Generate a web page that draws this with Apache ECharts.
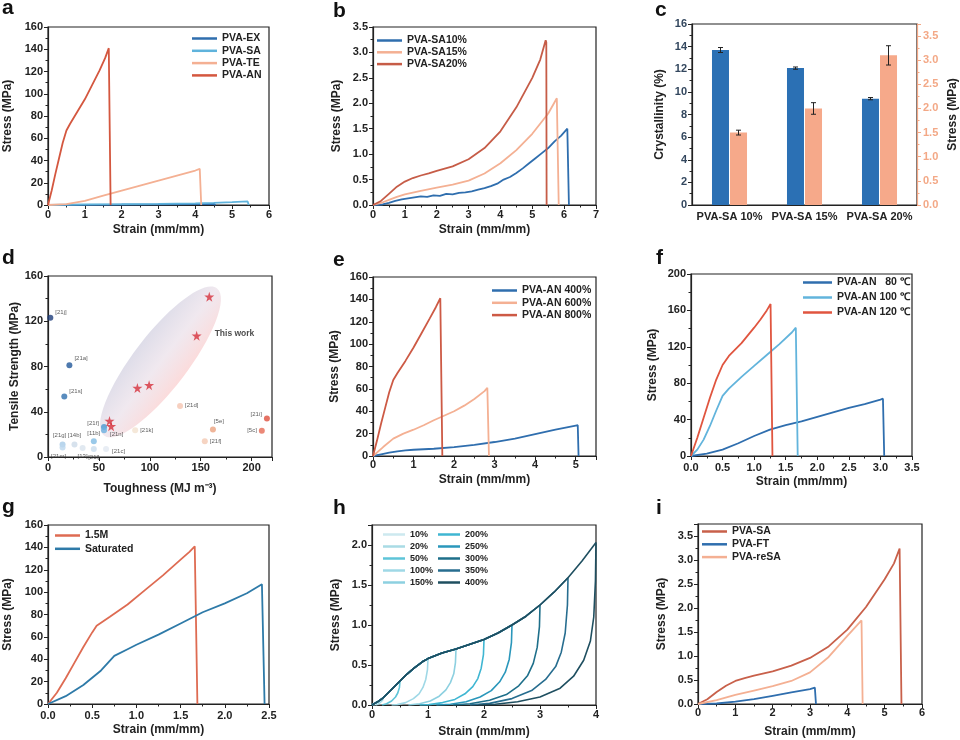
<!DOCTYPE html>
<html><head><meta charset="utf-8">
<script src="https://cdn.jsdelivr.net/npm/echarts@6/dist/echarts.min.js"></script>
<style>html,body{margin:0;padding:0;background:#fff}#c{width:960px;height:740px}</style>
</head><body><div id="c"></div>
<script>
// ---------------- DATA ----------------
// (a) Stress–strain of PVA-EX / SA / TE / AN
const aEX = [[0,0],[1,0.15],[2,0.3],[3,0.5],[4,0.8],[4.5,1.0],[4.55,0]];
const aSA = [[0,0],[1,0.5],[2,0.7],[3,0.95],[4,1.5],[4.5,2.0],[5,2.6],[5.42,3.2],[5.45,0]];
const aTE = [[0,0],[0.5,0.8],[1,3.8],[1.5,8.5],[2,13],[2.5,17.5],[3,22],[3.5,26.5],[4,31],[4.12,32.5],[4.14,32],[4.16,0]];
const aAN = [[0,0],[0.1,13],[0.2,28],[0.3,42],[0.4,56],[0.5,67],[0.6,73],[0.8,84],[1.0,95],[1.2,108],[1.4,121],[1.55,132],[1.65,141],[1.68,141],[1.7,0]];
// (b) PVA-SA 10/15/20 %
const b10 = [[0,0],[0.3,0.01],[0.5,0.04],[0.7,0.08],[0.9,0.11],[1.1,0.13],[1.3,0.15],[1.5,0.17],[1.7,0.16],[1.9,0.19],[2.1,0.18],[2.3,0.22],[2.5,0.21],[2.7,0.24],[2.9,0.25],[3.1,0.27],[3.3,0.3],[3.5,0.33],[3.7,0.37],[3.9,0.42],[4.1,0.5],[4.3,0.55],[4.5,0.63],[4.7,0.72],[4.9,0.82],[5.1,0.92],[5.3,1.02],[5.5,1.12],[5.7,1.25],[5.9,1.36],[6.1,1.5],[6.13,1.52],[6.15,0]];
const b15 = [[0,0],[0.25,0.04],[0.5,0.1],[0.75,0.16],[1.0,0.21],[1.5,0.28],[2.0,0.34],[2.5,0.4],[3.0,0.48],[3.5,0.62],[4.0,0.82],[4.5,1.08],[5.0,1.4],[5.5,1.8],[5.77,2.1],[5.8,2.1],[5.83,0]];
const b20 = [[0,0],[0.25,0.08],[0.5,0.22],[0.75,0.36],[1.0,0.46],[1.25,0.53],[1.5,0.58],[1.75,0.62],[2.0,0.67],[2.5,0.76],[3.0,0.9],[3.5,1.12],[4.0,1.45],[4.5,1.92],[5.0,2.5],[5.25,2.86],[5.42,3.24],[5.44,3.2],[5.45,0]];
// (c) crystallinity & stress
const cCategories = ['PVA-SA 10%','PVA-SA 15%','PVA-SA 20%'];
const cCryst = [13.7, 12.1, 9.4];
const cCrystErr = [0.22, 0.1, 0.1];
const cStress = [1.5, 2.0, 3.1];
const cStressErr = [0.05, 0.12, 0.2];
// (d) Ashby-type comparison
const dNames = ['[21j]','[21a]','[21s]','[21f]','[21n]','[11b]','[14b]','[21g]','[21m]','[13]','[21l]','[21c]','[21k]','[21d]','[5e]','[21f]','[21i]','[5c]'];
const dX = [2.3,21,16,55,55,45,26,14.3,14.3,34,45,57,85.6,129.7,162,154,215,210];
const dY = [123,81,53.5,26.6,23.6,14,11,11,8.3,8,7,7,23.6,45,24.2,14,34,23.3];
const dStarX = [158.4,146,99.3,87.8,60.4,62];
const dStarY = [141.7,107.2,63.5,61,31.9,27.2];
const dEllipseEnds = [[55,19],[166,149]];
// (e) draw ratio
const e400 = [[0,0],[0.2,1.5],[0.4,3],[0.6,4.2],[0.8,5],[1,5.6],[1.5,6.5],[2,8],[2.5,10],[3,12.5],[3.5,15.5],[4,19.5],[4.5,23.5],[5,27.2],[5.05,27.5],[5.07,0]];
const e600 = [[0,0],[0.25,8],[0.5,15.5],[0.75,20],[1,23.5],[1.25,27.5],[1.5,32],[1.75,36],[2,40],[2.25,45],[2.5,51],[2.75,58],[2.82,61],[2.84,61],[2.86,0]];
const e800 = [[0,0],[0.1,14],[0.2,29],[0.3,43],[0.4,57],[0.5,68],[0.6,74],[0.8,85],[1.0,97],[1.2,110],[1.4,123],[1.55,133],[1.66,141],[1.69,141],[1.71,0]];
// (f) annealing temperature
const f80 = [[0,0],[0.25,2.5],[0.5,7],[0.75,14],[1.0,22],[1.25,29],[1.5,34],[1.75,38],[2.0,43],[2.25,48],[2.5,53],[2.75,57],[3.0,62],[3.04,63],[3.06,0]];
const f100 = [[0,0],[0.1,7],[0.2,18],[0.3,33],[0.4,50],[0.5,66],[0.6,74],[0.8,87],[1.0,99],[1.2,111],[1.4,123],[1.6,136],[1.66,141],[1.68,141],[1.69,0]];
const f120 = [[0,0],[0.1,20],[0.2,42],[0.3,64],[0.4,84],[0.5,100],[0.6,110],[0.8,124],[1.0,141],[1.1,150],[1.2,160],[1.26,167],[1.28,166],[1.29,0]];
// (g) salt concentration
const g15M = [[0,0],[0.1,10],[0.2,23],[0.3,37],[0.4,51],[0.5,64],[0.55,70],[0.7,78],[0.9,89],[1.1,102],[1.3,115],[1.5,129],[1.6,136],[1.66,141],[1.68,141],[1.69,0]];
const gSat = [[0,0],[0.2,7],[0.4,17],[0.6,30],[0.75,43],[0.9,49],[1.0,53],[1.25,62],[1.5,72],[1.75,82],[2.0,90],[2.25,99],[2.42,107],[2.44,107],[2.45,0]];
// (h) cyclic loading
const hLevels = ['10%','20%','50%','100%','150%','200%','250%','300%','350%','400%'];
const hEnvelope = [[0,0],[0.05,0.02],[0.1,0.04],[0.2,0.09],[0.3,0.16],[0.4,0.23],[0.5,0.3],[0.6,0.37],[0.75,0.46],[0.9,0.54],[1.0,0.58],[1.25,0.65],[1.5,0.7],[1.75,0.76],[2.0,0.82],[2.25,0.9],[2.5,1.0],[2.75,1.11],[3.0,1.25],[3.25,1.41],[3.5,1.59],[3.75,1.8],[4.0,2.03]];
const hUnload = [
  [[0.1,0.04],[0.09,0.025],[0.07,0.01],[0.04,0]],
  [[0.2,0.09],[0.19,0.06],[0.16,0.035],[0.12,0.015],[0.07,0]],
  [[0.5,0.3],[0.49,0.22],[0.46,0.15],[0.42,0.1],[0.35,0.05],[0.26,0.015],[0.18,0]],
  [[1.0,0.58],[0.99,0.44],[0.96,0.32],[0.91,0.22],[0.84,0.14],[0.74,0.08],[0.6,0.03],[0.45,0.005],[0.35,0]],
  [[1.5,0.7],[1.49,0.53],[1.46,0.39],[1.4,0.28],[1.32,0.19],[1.2,0.11],[1.04,0.05],[0.85,0.015],[0.65,0]],
  [[2.0,0.82],[1.99,0.63],[1.95,0.46],[1.89,0.33],[1.8,0.23],[1.66,0.14],[1.48,0.07],[1.26,0.03],[1.02,0.005],[0.85,0]],
  [[2.5,1.0],[2.49,0.78],[2.45,0.57],[2.38,0.41],[2.28,0.29],[2.13,0.18],[1.93,0.1],[1.68,0.04],[1.4,0.01],[1.15,0]],
  [[3.0,1.25],[2.99,0.98],[2.95,0.72],[2.88,0.52],[2.78,0.37],[2.62,0.24],[2.4,0.13],[2.1,0.06],[1.75,0.015],[1.45,0]],
  [[3.5,1.59],[3.49,1.25],[3.45,0.9],[3.38,0.66],[3.28,0.48],[3.1,0.32],[2.85,0.18],[2.5,0.08],[2.1,0.02],[1.75,0]],
  [[4.0,2.03],[3.99,1.55],[3.96,1.1],[3.9,0.8],[3.78,0.56],[3.6,0.36],[3.36,0.21],[3.0,0.1],[2.6,0.04],[2.2,0.01],[1.9,0]]
];
// (i) recycling
const iSA = [[0,0],[0.25,0.1],[0.5,0.25],[0.75,0.38],[1.0,0.48],[1.25,0.54],[1.5,0.59],[2.0,0.68],[2.5,0.8],[3.0,0.96],[3.5,1.2],[4.0,1.55],[4.5,2.02],[5.0,2.6],[5.25,2.93],[5.4,3.24],[5.43,3.2],[5.45,0]];
const iFT = [[0,0],[0.5,0.01],[1.0,0.05],[1.5,0.1],[2.0,0.17],[2.5,0.24],[3.0,0.31],[3.13,0.34],[3.15,0.33],[3.16,0]];
const iReSA = [[0,0],[0.5,0.08],[1.0,0.19],[1.5,0.28],[2.0,0.37],[2.5,0.48],[3.0,0.66],[3.5,0.98],[4.0,1.42],[4.38,1.74],[4.4,1.72],[4.41,0]];

// ---------------- STYLE ----------------
const FONT = '"Liberation Sans", Arial, Helvetica, sans-serif';
const INK = '#222';
const BLUE = '#2f6eae', LBLUE = '#5fb3dc', SALMON = '#f4b093', RED = '#d4573f', BROWN = '#c65c47';
const hColors = ['#cde9ef','#a9dbe5','#5ec4d8','#9fd8e6','#8dd0e0','#3fb6d2','#2a97bb','#1e6f8a','#276d8f','#1f4f60'];
const dColors = ['#1e3d7b','#22579a','#2f6fae','#4a97d0','#6bb0e0','#7fbbe4','#cddbe8','#a7cce8','#bcd7ee','#dae4ee','#c9dcec','#e2e9f1','#f3e2d0','#f5c4b0','#eba27f','#f4c9b3','#df4f3d','#e66a55'];
const dLabelPos = ['right','right','right','left','right','top','top','top','bottom','bottom','bottom','right','right','right','top','right','left','left'];
const dLabelOff = [[0,-6],[0,-7],[0,-5],[0,-4],[1,4],[0,0],[0,-1],[-3,-1],[-4,1],[0,0],[0,0],[1,2],[0,0],[0,-1],[6,0],[0,0],[0,-4],[0,0]];

const gridBoxes = [
  {left:48, top:27, width:221, height:178},
  {left:373, top:27, width:223, height:178},
  {left:692, top:24, width:225, height:181},
  {left:48, top:276, width:224, height:181},
  {left:373, top:277, width:223, height:179},
  {left:691, top:274, width:221, height:182},
  {left:48, top:525, width:221, height:179},
  {left:372, top:525, width:224, height:180},
  {left:698, top:524, width:224, height:180}
];
const grid = gridBoxes.map(g => Object.assign({show:true, borderColor:INK, borderWidth:1.2, backgroundColor:'transparent', containLabel:false, outerBoundsMode:'none'}, g));

const fix1 = v => v.toFixed(1);
function vAxis(gridIndex, position, min, max, interval, name, o) {
  o = o || {};
  const col = o.color || INK;
  const ax = {
    type:'value', gridIndex, position, min, max, interval,
    name, nameLocation:'middle', nameGap:o.nameGap,
    nameTextStyle:{fontFamily:FONT, fontWeight:'bold', fontSize:12, color:INK},
    axisLine:{show:true, onZero:false, lineStyle:{color:col, width:1.2}},
    axisTick:{show:true, length:4, lineStyle:{color:col, width:1}},
    minorTick:{show:true, splitNumber:2, length:2.5, lineStyle:{color:col, width:1}},
    splitLine:{show:false}, minorSplitLine:{show:false},
    axisLabel:{fontFamily:FONT, fontWeight:'bold', fontSize:11, color:o.labelColor || INK, margin:o.margin == null ? 5 : o.margin, showMaxLabel: !o.hideMax, showMinLabel:true}
  };
  if (o.fmt) ax.axisLabel.formatter = o.fmt;
  return ax;
}
const STRAIN = 'Strain (mm/mm)', STRESS = 'Stress (MPa)';
const xAxis = [
  vAxis(0,'bottom',0,6,1,STRAIN,{nameGap:19, margin:4}),
  vAxis(1,'bottom',0,7,1,STRAIN,{nameGap:19, margin:4}),
  {type:'category', gridIndex:2, data:cCategories, position:'bottom',
   axisLine:{show:true, lineStyle:{color:INK, width:1.2}}, axisTick:{show:false},
   axisLabel:{fontFamily:FONT, fontWeight:'bold', fontSize:11, color:INK, margin:6, interval:0}},
  vAxis(3,'bottom',0,220,50,'Toughness (MJ m⁻³)',{nameGap:26, margin:5, hideMax:true}),
  vAxis(4,'bottom',0,5.5,1,STRAIN,{nameGap:18, margin:3, hideMax:true}),
  vAxis(5,'bottom',0,3.5,0.5,STRAIN,{nameGap:20, margin:6, fmt:fix1}),
  vAxis(6,'bottom',0,2.5,0.5,STRAIN,{nameGap:20, margin:6, fmt:fix1}),
  vAxis(7,'bottom',0,4,1,STRAIN,{nameGap:21, margin:4}),
  vAxis(8,'bottom',0,6,1,STRAIN,{nameGap:22, margin:3})
];
const yAxis = [
  vAxis(0,'left',0,160,20,STRESS,{nameGap:34}),
  vAxis(1,'left',0,3.5,0.5,STRESS,{nameGap:30, fmt:fix1}),
  vAxis(2,'left',0,16,2,'Crystallinity (%)',{nameGap:26, labelColor:'#33475e'}),
  vAxis(2,'right',0,3.75,0.5,STRESS,{nameGap:30, color:'#f3a886', labelColor:'#f3a886', hideMax:true, fmt:fix1, margin:6}),
  vAxis(3,'left',0,160,40,'Tensile Strength (MPa)',{nameGap:27}),
  vAxis(4,'left',0,160,20,STRESS,{nameGap:32}),
  vAxis(5,'left',0,200,40,STRESS,{nameGap:32}),
  vAxis(6,'left',0,160,20,STRESS,{nameGap:34}),
  vAxis(7,'left',0,2.25,0.5,STRESS,{nameGap:30, hideMax:true, fmt:fix1}),
  vAxis(8,'left',0,3.75,0.5,STRESS,{nameGap:30, hideMax:true, fmt:fix1})
];

function line(name, data, xi, yi, color, w) {
  return {type:'line', name, data, xAxisIndex:xi, yAxisIndex:yi, symbol:'none', showSymbol:false,
    lineStyle:{color, width:w || 1.8}, itemStyle:{color}, clip:true, z:3, animation:false};
}
function legend(items, left, top, gap, fontSize, itemWidth) {
  return {orient:'vertical', left, top, padding:0, itemGap:gap, itemWidth:itemWidth || 25, itemHeight:2.5,
    icon:'rect', selectedMode:false,
    textStyle:{fontFamily:FONT, fontWeight:'bold', fontSize:fontSize || 10.5, color:INK},
    data: items.map(([n,c]) => ({name:n, itemStyle:{color:c}, lineStyle:{color:c}}))};
}

const series = [];
// a
series.push(line('PVA-EX', aEX, 0, 0, BLUE), line('PVA-SA', aSA, 0, 0, LBLUE), line('PVA-TE', aTE, 0, 0, SALMON), line('PVA-AN', aAN, 0, 0, RED));
// b
series.push(line('PVA-SA10%', b10, 1, 1, BLUE), line('PVA-SA15%', b15, 1, 1, SALMON), line('PVA-SA20%', b20, 1, 1, BROWN));
// c
const BAR_W = 17, BAR_OFF = 9;
series.push({type:'bar', name:'Crystallinity', xAxisIndex:2, yAxisIndex:2, data:cCryst, barWidth:BAR_W, barGap:'6%', itemStyle:{color:'#2b70b4'}, animation:false});
series.push({type:'bar', name:'Stress', xAxisIndex:2, yAxisIndex:3, data:cStress, barWidth:BAR_W, barGap:'6%', itemStyle:{color:'#f6a98a'}, animation:false});
function errBar(api, off) {
  const lo = api.coord([api.value(0), api.value(1)]);
  const hi = api.coord([api.value(0), api.value(2)]);
  const x = lo[0] + off, cap = 2.5, st = {stroke:'#222', lineWidth:1};
  return {type:'group', children:[
    {type:'line', shape:{x1:x, y1:lo[1], x2:x, y2:hi[1]}, style:st},
    {type:'line', shape:{x1:x-cap, y1:lo[1], x2:x+cap, y2:lo[1]}, style:st},
    {type:'line', shape:{x1:x-cap, y1:hi[1], x2:x+cap, y2:hi[1]}, style:st}
  ]};
}
series.push({type:'custom', xAxisIndex:2, yAxisIndex:2, encode:{x:0, y:[1,2]}, z:5, silent:true, animation:false,
  data:cCryst.map((v,i) => [i, v - cCrystErr[i], v + cCrystErr[i]]), renderItem:(p, api) => errBar(api, -BAR_OFF)});
series.push({type:'custom', xAxisIndex:2, yAxisIndex:3, encode:{x:0, y:[1,2]}, z:5, silent:true, animation:false,
  data:cStress.map((v,i) => [i, v - cStressErr[i], v + cStressErr[i]]), renderItem:(p, api) => errBar(api, BAR_OFF)});
// d
series.push({type:'custom', xAxisIndex:3, yAxisIndex:4, z:1, silent:true, animation:false,
  data:[[dEllipseEnds[0][0], dEllipseEnds[0][1], dEllipseEnds[1][0], dEllipseEnds[1][1]]],
  encode:{x:[0,2], y:[1,3]},
  renderItem:(p, api) => {
    const p1 = api.coord([api.value(0), api.value(1)]);
    const p2 = api.coord([api.value(2), api.value(3)]);
    const dx = p2[0]-p1[0], dy = p2[1]-p1[1];
    return {type:'ellipse', x:(p1[0]+p2[0])/2, y:(p1[1]+p2[1])/2, rotation:Math.atan2(-dy, dx),
      shape:{cx:0, cy:0, rx:Math.sqrt(dx*dx+dy*dy)/2, ry:27},
      style:{fill:new echarts.graphic.LinearGradient(0,0,0,1,[
        {offset:0, color:'rgba(200,198,218,0.6)'},
        {offset:0.5, color:'rgba(228,214,226,0.55)'},
        {offset:1, color:'rgba(250,200,200,0.65)'}])}};
  }});
series.push({type:'scatter', name:'refs', xAxisIndex:3, yAxisIndex:4, symbol:'circle', symbolSize:6, z:4, animation:false,
  data:dNames.map((n,i) => ({name:n, value:[dX[i], dY[i]], itemStyle:{color:dColors[i]},
    label:{show:true, formatter:'{b}', position:dLabelPos[i], offset:dLabelOff[i], distance:2, fontSize:6, fontFamily:FONT, color:'#333'}}))});
const STAR = 'path://M50,0 L61,35 L98,35 L68,57 L79,91 L50,70 L21,91 L32,57 L2,35 L39,35 Z';
series.push({type:'scatter', name:'This work', xAxisIndex:3, yAxisIndex:4, symbol:STAR, symbolSize:10, z:5, animation:false,
  itemStyle:{color:'#d6313c'},
  data:dStarX.map((x,i) => ({value:[x, dStarY[i]], label: i === 1 ? {show:true, formatter:'This work', position:'right', distance:13, offset:[0,-2],
    fontSize:8.5, fontWeight:'bold', fontFamily:FONT, color:'#222'} : {show:false}}))});
// e
series.push(line('PVA-AN 400%', e400, 4, 5, BLUE), line('PVA-AN 600%', e600, 4, 5, SALMON), line('PVA-AN 800%', e800, 4, 5, '#cd5a45'));
// f
series.push(line('PVA-AN   80 ℃', f80, 5, 6, BLUE), line('PVA-AN 100 ℃', f100, 5, 6, '#62b4dc'), line('PVA-AN 120 ℃', f120, 5, 6, '#e0553f'));
// g
series.push(line('1.5M', g15M, 6, 7, '#de6b52'), line('Saturated', gSat, 6, 7, '#2e7aa8'));
// h
hLevels.forEach((lv, k) => {
  const s = hUnload[k][0][0];
  const data = hEnvelope.filter(p => p[0] < s).concat(hUnload[k]);
  series.push(line(lv, data, 7, 8, hColors[k], 1.6));
});
// i
series.push(line('PVA-SA', iSA, 8, 9, '#c8604a'), line('PVA-FT', iFT, 8, 9, BLUE), line('PVA-reSA', iReSA, 8, 9, SALMON));

const legends = [
  legend([['PVA-EX',BLUE],['PVA-SA',LBLUE],['PVA-TE',SALMON],['PVA-AN',RED]], 192, 33, 1.3),
  legend([['PVA-SA10%',BLUE],['PVA-SA15%',SALMON],['PVA-SA20%',BROWN]], 377, 35, 0.8),
  legend([['PVA-AN 400%',BLUE],['PVA-AN 600%',SALMON],['PVA-AN 800%','#cd5a45']], 492, 285, 1.3),
  legend([['PVA-AN   80 ℃',BLUE],['PVA-AN 100 ℃','#62b4dc'],['PVA-AN 120 ℃','#e0553f']], 803, 277, 4, 10.5, 29),
  legend([['1.5M','#de6b52'],['Saturated','#2e7aa8']], 55, 530, 2.3),
  legend(hLevels.slice(0,5).map((l,k) => [l, hColors[k]]), 383, 530, 3, 9, 22),
  legend(hLevels.slice(5).map((l,k) => [l, hColors[k+5]]), 438, 530, 3, 9, 22),
  legend([['PVA-SA','#c8604a'],['PVA-FT',BLUE],['PVA-reSA',SALMON]], 702, 526, 1.8)
];

const letters = [['a',2,-2],['b',333,1],['c',655,0],['d',2,248],['e',333,250],['f',656,248],['g',2,497],['h',333,498],['i',656,498]];
const graphic = letters.map(([t,x,y]) => ({type:'text', left:x, top:y, z:100,
  style:{text:t, fontFamily:FONT, fontWeight:'bold', fontSize:21, fill:'#111'}}));

const chart = echarts.init(document.getElementById('c'), null, {renderer:'canvas'});
chart.setOption({animation:false, backgroundColor:'#fff', grid, xAxis, yAxis, series, legend:legends, graphic});
</script></body></html>
